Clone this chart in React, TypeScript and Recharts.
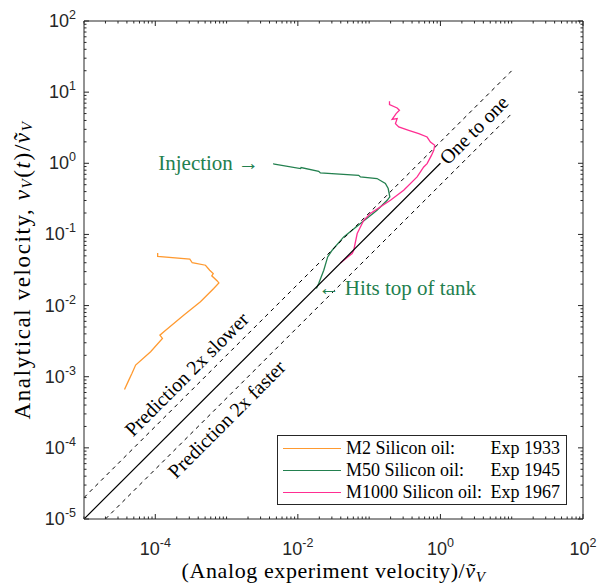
import { LineChart, Line, XAxis, YAxis, ReferenceDot, Legend, Label } from 'recharts';

// ---- data ----
const m2X = [1.08e-4, 1.08e-4, 3.05e-4, 3.3e-4, 5.06e-4, 5.8e-4, 6.5e-4, 6.2e-4, 7.4e-4, 7.8e-4, 6.6e-4, 4.3e-4, 2.5e-4, 1.32e-4, 1.16e-4, 1.26e-4, 8.6e-5, 5.3e-5, 4.7e-5, 4.25e-5, 3.7e-5];
const m2Y = [0.055, 0.049, 0.045, 0.04, 0.0369, 0.0314, 0.0282, 0.0262, 0.0222, 0.0208, 0.0174, 0.0113, 0.0073, 0.0043, 0.00384, 0.00345, 0.00224, 0.00146, 0.00111, 0.000895, 0.00066];

const m50X = [0.00451, 0.0047, 0.0109, 0.0111, 0.0196, 0.0207, 0.0714, 0.0755, 0.129, 0.169, 0.185, 0.195, 0.179, 0.129, 0.0755, 0.044, 0.0303, 0.0262, 0.0231, 0.0196, 0.0182];
const m50Y = [0.99, 0.97, 0.843, 0.87, 0.773, 0.731, 0.678, 0.642, 0.61, 0.519, 0.442, 0.337, 0.302, 0.219, 0.142, 0.0923, 0.06, 0.0483, 0.0314, 0.0204, 0.0174];

const m1000X = [0.193, 0.193, 0.247, 0.266, 0.239, 0.21, 0.247, 0.234, 0.26, 0.359, 0.497, 0.65, 0.724, 0.832, 0.806, 0.748, 0.65, 0.583, 0.471, 0.305, 0.199, 0.104, 0.084, 0.068, 0.0608, 0.0578, 0.0395];
const m1000Y = [7.43, 6.67, 5.98, 5.55, 4.99, 4.15, 4.25, 3.61, 3.24, 2.9, 2.61, 2.34, 1.99, 1.79, 1.52, 1.29, 0.99, 0.887, 0.643, 0.418, 0.302, 0.197, 0.158, 0.103, 0.06, 0.054, 0.0398];

const oneX = [1e-5, 1];
const oneY = [1e-5, 1];
const slowX = [1e-5, 10];
const slowY = [2e-5, 20];
const fastX = [2e-5, 10];
const fastY = [1e-5, 5];

const seriesNames = ['M2 Silicon oil:', 'M50 Silicon oil:', 'M1000 Silicon oil:'];
const expLabels = ['Exp 1933', 'Exp 1945', 'Exp 1967'];
const seriesColors = ['#FF9A30', '#23804F', '#FF2E92'];

const decades = [-5, -4, -3, -2, -1, 0, 1, 2];
const xLabelled = [-4, -2, 0, 2];
const yLabelled = [-5, -4, -3, -2, -1, 0, 1, 2];

const SERIF = '"Liberation Serif", "Times New Roman", serif';
const SANS = '"Liberation Sans", Arial, sans-serif';
const AX = '#262626';

const zip = (xs: number[], ys: number[]) => xs.map((x, i) => ({ x, y: ys[i] }));

const logTicks: number[] = [];
decades.forEach((d) => {
  const base = Math.pow(10, d);
  logTicks.push(base);
  if (d < 2) for (let k = 2; k <= 9; k++) logTicks.push(k * base);
});

function decadeOf(v: number) {
  const e = Math.log10(v);
  return Math.abs(e - Math.round(e)) < 1e-6 ? Math.round(e) : null;
}

function makeTick(side: 'bottom' | 'top' | 'left' | 'right', labelled: number[]) {
  return (props: any) => {
    const { x, y, payload } = props;
    const e = decadeOf(payload.value);
    const major = e !== null && labelled.includes(e);
    const len = major ? 5 : 2.5;
    let line;
    if (side === 'bottom') line = <line x1={x} y1={y} x2={x} y2={y - len} stroke={AX} />;
    else if (side === 'top') line = <line x1={x} y1={y} x2={x} y2={y + len} stroke={AX} />;
    else if (side === 'left') line = <line x1={x} y1={y} x2={x + len} y2={y} stroke={AX} />;
    else line = <line x1={x} y1={y} x2={x - len} y2={y} stroke={AX} />;
    let label = null;
    if (major && side === 'bottom') {
      label = (
        <text x={x} y={y + 36} textAnchor="middle" fontFamily={SANS} fontSize={18} fill={AX}>
          10<tspan dy={-8} fontSize={12.5}>{e}</tspan>
        </text>
      );
    } else if (major && side === 'left') {
      label = (
        <text x={x - 8} y={y + 6} textAnchor="end" fontFamily={SANS} fontSize={18} fill={AX}>
          10<tspan dy={-8} fontSize={12.5}>{e}</tspan>
        </text>
      );
    }
    return (
      <g>
        {line}
        {label}
      </g>
    );
  };
}

function rotatedText(text: string, color: string, anchor: 'start' | 'middle', size: number) {
  return (p: any) => (
    <text
      x={p.cx}
      y={p.cy}
      transform={`rotate(-45 ${p.cx} ${p.cy})`}
      textAnchor={anchor}
      dominantBaseline="central"
      fontFamily={SERIF}
      fontSize={size}
      fill={color}
    >
      {text}
    </text>
  );
}

function plainText(text: string, color: string, size: number) {
  return (p: any) => (
    <text x={p.cx} y={p.cy} dominantBaseline="central" fontFamily={SERIF} fontSize={size} fill={color}>
      {text}
    </text>
  );
}

function LegendBox() {
  return (
    <div
      style={{
        width: 290,
        height: 70,
        border: `1px solid ${AX}`,
        background: '#fff',
        boxSizing: 'border-box',
        fontFamily: SERIF,
        fontSize: 18,
        color: '#000',
        paddingTop: 1,
      }}
    >
      {seriesNames.map((n, i) => (
        <div key={n} style={{ display: 'flex', alignItems: 'center', height: 22 }}>
          <span style={{ width: 58, borderTop: `1.3px solid ${seriesColors[i]}`, marginLeft: 5, marginRight: 5 }} />
          <span style={{ flex: 1, whiteSpace: 'nowrap' }}>{n}</span>
          <span style={{ marginRight: 6, whiteSpace: 'nowrap' }}>{expLabels[i]}</span>
        </div>
      ))}
    </div>
  );
}

export default function App() {
  const m2 = zip(m2X, m2Y);
  const m50 = zip(m50X, m50Y);
  const m1000 = zip(m1000X, m1000Y);

  return (
    <div style={{ position: 'absolute', left: 0, top: 0, background: '#fff' }}>
      <LineChart width={600} height={585} margin={{ top: 20, right: 16, bottom: 65, left: 83 }}>
        <XAxis
          dataKey="x"
          type="number"
          scale="log"
          domain={[1e-5, 100]}
          allowDataOverflow
          ticks={logTicks}
          interval={0}
          height={1}
          tickSize={0}
          tickMargin={0}
          tickLine={false}
          axisLine={{ stroke: AX }}
          tick={makeTick('bottom', xLabelled)}
        >
          <Label
            content={(p: any) => {
              const vb = p.viewBox;
              return (
                <text x={vb.x + vb.width / 2} y={vb.y + 59} textAnchor="middle" fontFamily={SERIF} fontSize={22} letterSpacing={0.6} fill="#000">
                  (Analog experiment velocity)/<tspan fontStyle="italic">ṽ</tspan>
                  <tspan fontStyle="italic" fontSize={15} dy={4}>V</tspan>
                </text>
              );
            }}
          />
        </XAxis>
        <XAxis
          xAxisId="top"
          orientation="top"
          dataKey="x"
          type="number"
          scale="log"
          domain={[1e-5, 100]}
          allowDataOverflow
          ticks={logTicks}
          interval={0}
          height={1}
          tickSize={0}
          tickMargin={0}
          tickLine={false}
          axisLine={{ stroke: AX }}
          tick={makeTick('top', xLabelled)}
        />
        <YAxis
          type="number"
          scale="log"
          domain={[1e-5, 100]}
          allowDataOverflow
          ticks={logTicks}
          interval={0}
          width={1}
          tickSize={0}
          tickMargin={0}
          tickLine={false}
          axisLine={{ stroke: AX }}
          tick={makeTick('left', yLabelled)}
        >
          <Label
            content={(p: any) => {
              const vb = p.viewBox;
              const cx = 22;
              const cy = vb.y + vb.height / 2;
              return (
                <text x={cx} y={cy} transform={`rotate(-90 ${cx} ${cy})`} textAnchor="middle" dominantBaseline="central" fontFamily={SERIF} fontSize={23} letterSpacing={1.6} fill="#000">
                  Analytical velocity, <tspan fontStyle="italic">v</tspan>
                  <tspan fontStyle="italic" fontSize={15} dy={5}>V</tspan>
                  <tspan dy={-5}>(</tspan>
                  <tspan fontStyle="italic">t</tspan>)/<tspan fontStyle="italic">ṽ</tspan>
                  <tspan fontStyle="italic" fontSize={15} dy={5}>V</tspan>
                </text>
              );
            }}
          />
        </YAxis>
        <YAxis
          yAxisId="right"
          orientation="right"
          type="number"
          scale="log"
          domain={[1e-5, 100]}
          allowDataOverflow
          ticks={logTicks}
          interval={0}
          width={1}
          tickSize={0}
          tickMargin={0}
          tickLine={false}
          axisLine={{ stroke: AX }}
          tick={makeTick('right', yLabelled)}
        />

        <Line data={m2} dataKey="y" name={seriesNames[0]} stroke={seriesColors[0]} strokeWidth={1.3} dot={false} isAnimationActive={false} />
        <Line data={m50} dataKey="y" name={seriesNames[1]} stroke={seriesColors[1]} strokeWidth={1.3} dot={false} isAnimationActive={false} />
        <Line data={m1000} dataKey="y" name={seriesNames[2]} stroke={seriesColors[2]} strokeWidth={1.3} dot={false} isAnimationActive={false} />
        <Line data={zip(slowX, slowY)} dataKey="y" stroke="#000" strokeWidth={1} strokeDasharray="4 4" dot={false} legendType="none" isAnimationActive={false} />
        <Line data={zip(fastX, fastY)} dataKey="y" stroke="#000" strokeWidth={1} strokeDasharray="4 4" dot={false} legendType="none" isAnimationActive={false} />
        <Line data={zip(oneX, oneY)} dataKey="y" stroke="#000" strokeWidth={1.2} dot={false} legendType="none" isAnimationActive={false} />

        <ReferenceDot x={2.74e-4} y={1.09e-3} r={0} shape={rotatedText('Prediction 2x slower', '#000', 'middle', 20)} />
        <ReferenceDot x={9.98e-4} y={2.54e-4} r={0} shape={rotatedText('Prediction 2x faster', '#000', 'middle', 20)} />
        <ReferenceDot x={1.08} y={1.08} r={0} shape={rotatedText('One to one', '#000', 'start', 20)} />
        <ReferenceDot x={1.1e-4} y={1.0} r={0} shape={plainText('Injection →', seriesColors[1], 21)} />
        <ReferenceDot x={0.0195} y={0.0175} r={0} shape={plainText('← Hits top of tank', seriesColors[1], 21)} />

        <Legend
          layout="vertical"
          align="center"
          verticalAlign="middle"
          wrapperStyle={{ left: 277, top: 435, width: 290 }}
          content={() => <LegendBox />}
        />
      </LineChart>
    </div>
  );
}
